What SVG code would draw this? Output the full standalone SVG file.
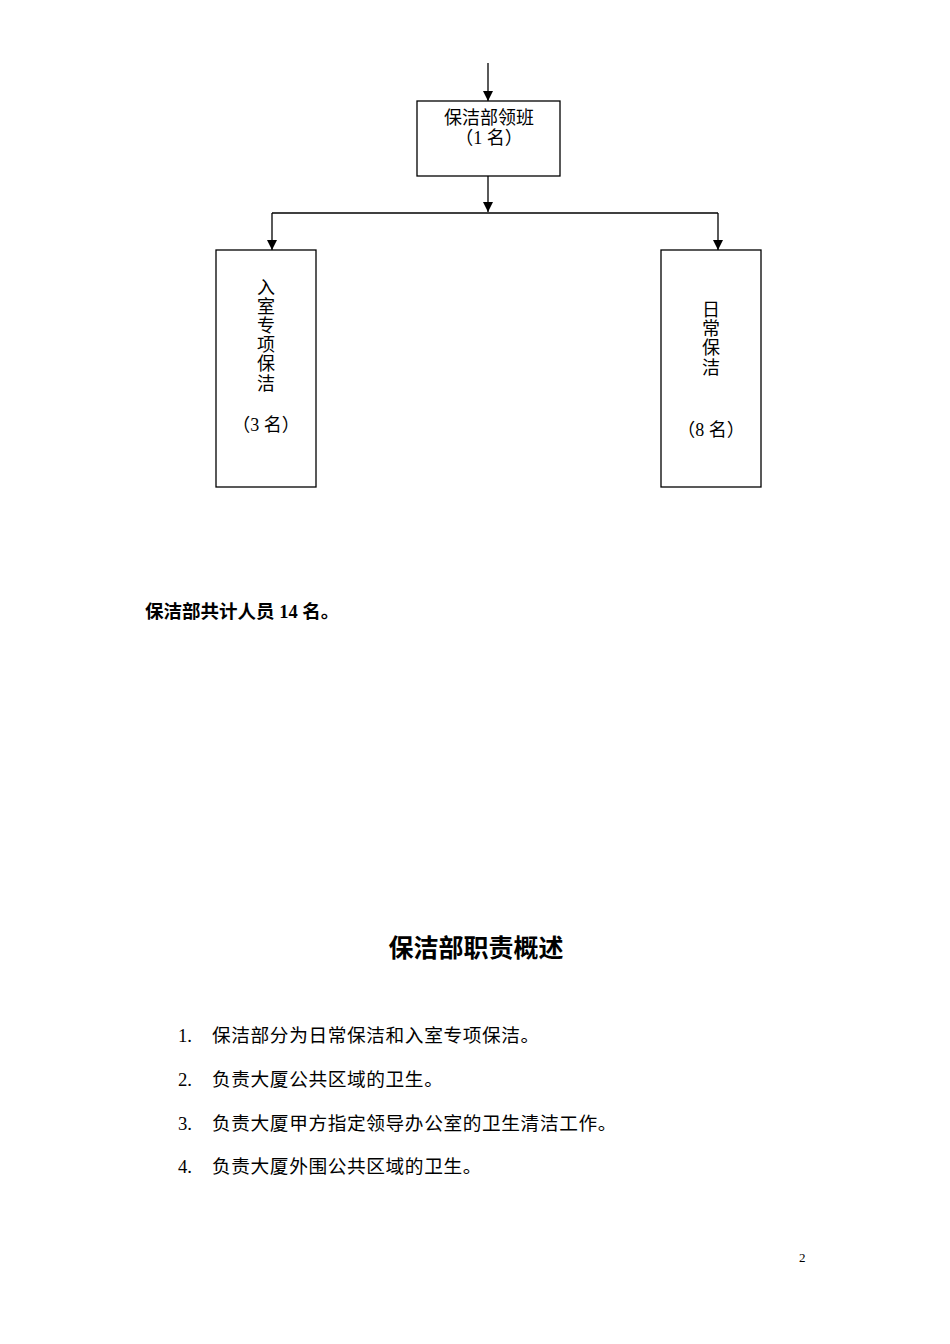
<svg xmlns="http://www.w3.org/2000/svg" width="950" height="1344" viewBox="0 0 950 1344">
<style>
.t{font-family:"Liberation Serif","Noto Sans CJK SC",serif;font-size:18px;fill:#000}
.c{text-anchor:middle}
.b{font-weight:bold}
.l{font-size:18.7px}
.sp{letter-spacing:0.6px}
.box{fill:#fff;stroke:#000;stroke-width:1.3}
.ln{fill:none;stroke:#000;stroke-width:1.3}
</style>
<defs>
<marker id="ah" markerWidth="10" markerHeight="10" refX="10" refY="5" orient="auto" markerUnits="userSpaceOnUse" viewBox="0 0 10 10">
<path d="M0,0 L10,5 L0,10 Z" fill="#000"/>
</marker>
</defs>
<rect width="950" height="1344" fill="#fff"/>
<g id="connectors">
<line class="ln" x1="488" y1="63" x2="488" y2="101" marker-end="url(#ah)"/>
<line class="ln" x1="488" y1="176" x2="488" y2="212" marker-end="url(#ah)"/>
<line class="ln" x1="272" y1="213" x2="718" y2="213"/>
<line class="ln" x1="272" y1="213" x2="272" y2="250" marker-end="url(#ah)"/>
<line class="ln" x1="718" y1="213" x2="718" y2="250" marker-end="url(#ah)"/>
</g>
<g id="lead">
<rect class="box" x="417" y="101" width="143" height="75"/>
<text class="t c" x="489" y="124">保洁部领班</text>
<text class="t c" x="489" y="144">（1 名）</text>
</g>
<g id="indoor">
<rect class="box" x="216" y="250" width="100" height="237"/>
<text class="t c" x="266" y="294">入</text>
<text class="t c" x="266" y="313">室</text>
<text class="t c" x="266" y="332">专</text>
<text class="t c" x="266" y="351">项</text>
<text class="t c" x="266" y="370">保</text>
<text class="t c" x="266" y="390">洁</text>
<text class="t c" x="266" y="431">（3 名）</text>
</g>
<g id="daily">
<rect class="box" x="661" y="250" width="100" height="237"/>
<text class="t c" x="711" y="316">日</text>
<text class="t c" x="711" y="335">常</text>
<text class="t c" x="711" y="354">保</text>
<text class="t c" x="711" y="374">洁</text>
<text class="t c" x="711" y="436">（8 名）</text>
</g>
<text class="t b" x="145" y="618" style="font-size:18.5px">保洁部共计人员 14 名。</text>
<text class="t b c" x="476" y="957" style="font-size:25px">保洁部职责概述</text>
<g class="t l">
<text x="178" y="1042">1.</text><text class="sp" x="212" y="1042">保洁部分为日常保洁和入室专项保洁。</text>
<text x="178" y="1086">2.</text><text class="sp" x="212" y="1086">负责大厦公共区域的卫生。</text>
<text x="178" y="1130">3.</text><text class="sp" x="212" y="1130">负责大厦甲方指定领导办公室的卫生清洁工作。</text>
<text x="178" y="1173">4.</text><text class="sp" x="212" y="1173">负责大厦外围公共区域的卫生。</text>
</g>
<text class="t" x="799" y="1262" style="font-size:13px">2</text>
</svg>
